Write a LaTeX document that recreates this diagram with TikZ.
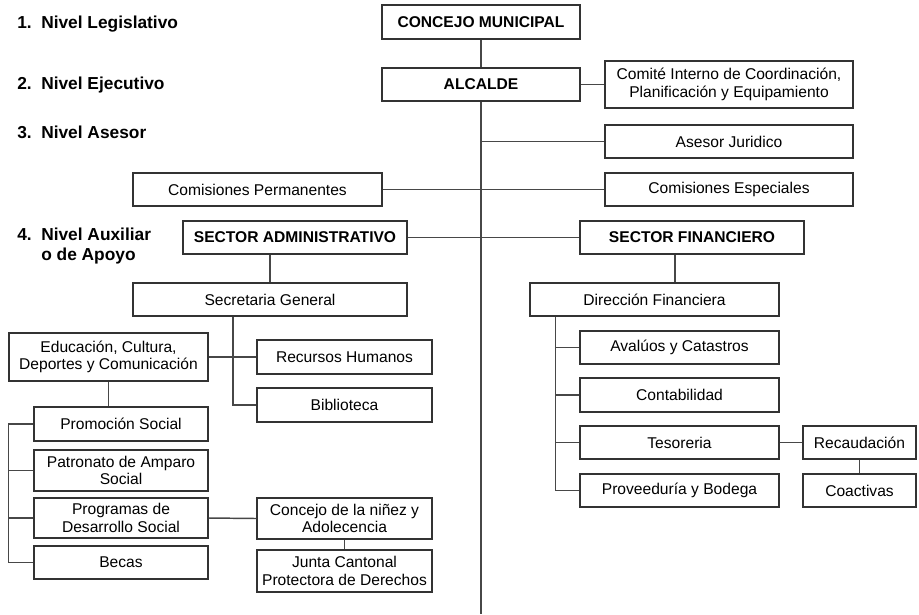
\documentclass[tikz,border=0pt]{standalone}
\usepackage{fontspec}
\setmainfont{Liberation Sans}
\usetikzlibrary{calc}
\tikzset{
  box/.style 2 args={draw=black!80, line width=1.1pt, fill=white, align=center, inner sep=0pt,
    minimum width=#1*0.75pt, minimum height=#2*0.75pt, text=black,
    font=\fontsize{11.7}{13.2}\selectfont},
  hbox/.style 2 args={box={#1}{#2}, font=\fontsize{11.7}{13.2}\selectfont\bfseries},
  lvl/.style={anchor=base west, inner sep=0pt, align=left, font=\fontsize{13}{15}\selectfont\bfseries},
  conn/.style={draw=black!72, line width=1.1pt}
}
\begin{document}
\begin{tikzpicture}[x=0.75pt, y=-0.75pt]
\useasboundingbox (0,0) rectangle (919,614);
% level labels
\node[lvl] (n1) at (17,28) {1.};
\node[lvl] (l1) at (41,28) {Nivel Legislativo};
\node[lvl] (n2) at (17,89) {2.};
\node[lvl] (l2) at (41,89) {Nivel Ejecutivo};
\node[lvl] (n3) at (17,138) {3.};
\node[lvl] (l3) at (41,138) {Nivel Asesor};
\node[lvl] (n4) at (17,240) {4.};
\node[lvl] (l4) at (41,240) {Nivel Auxiliar};
\node[lvl] (l4b) at (41,260) {o de Apoyo};
% boxes
\node[hbox={198}{34}] (concejo) at (481,22) {CONCEJO MUNICIPAL};
\node[hbox={198}{33}] (alcalde) at (481,84.5) {ALCALDE};
\node[box={248}{47}] (comite) at (729,84.5) {Comité Interno de Coordinación,\\Planificación y Equipamiento};
\node[box={248}{33}] (asesor) at (729,141.5) {Asesor Juridico};
\node[box={248}{33}] (especiales) at (729,189.5) {Comisiones Especiales};
\node[box={249}{33}] (permanentes) at (257.5,189.5) {Comisiones Permanentes};
\node[hbox={224}{33}] (admin) at (295,237.5) {SECTOR ADMINISTRATIVO};
\node[hbox={224}{33}] (fin) at (692,237.5) {SECTOR FINANCIERO};
\node[box={274}{33}] (secgen) at (270,299.5) {Secretaria General};
\node[box={175}{34}] (rrhh) at (344.5,357) {Recursos Humanos};
\node[box={175}{34}] (biblio) at (344.5,405) {Biblioteca};
\node[box={199}{48}] (edu) at (108.5,357) {Educación, Cultura,\\Deportes y Comunicación};
\node[box={174}{34}] (promo) at (121,424) {Promoción Social};
\node[box={174}{41}] (patro) at (121,470.5) {Patronato de Amparo\\Social};
\node[box={174}{40}] (progr) at (121,518) {Programas de\\Desarrollo Social};
\node[box={174}{33}] (becas) at (121,562.5) {Becas};
\node[box={175}{41}] (ninez) at (344.5,518.5) {Concejo de la niñez y\\Adolecencia};
\node[box={175}{42}] (junta) at (344.5,571) {Junta Cantonal\\Protectora de Derechos};
\node[box={249}{33}] (dirfin) at (654.5,299.5) {Dirección Financiera};
\node[box={199}{33}] (aval) at (679.5,347.5) {Avalúos y Catastros};
\node[box={199}{34}] (conta) at (679.5,395) {Contabilidad};
\node[box={199}{33}] (teso) at (679.5,442.5) {Tesoreria};
\node[box={199}{33}] (prov) at (679.5,490.5) {Proveeduría y Bodega};
\node[box={113}{33}] (recaud) at (859.5,442.5) {Recaudación};
\node[box={113}{33}] (coact) at (859.5,490.5) {Coactivas};
% coordinates
\coordinate (bot) at (alcalde.south |- 0,614);
\coordinate (fv) at ([xshift=-12.75pt]fin.south);
\coordinate (sv) at ([xshift=-27.75pt]secgen.south);
\coordinate (dv) at ([xshift=19.5pt]dirfin.south west);
% connectors
\draw[conn] (concejo.south) -- (alcalde.north);
\draw[conn] (alcalde.south) -- (bot);
\draw[conn] (alcalde.east) -- (comite.west);
\draw[conn] (asesor.west) -- (asesor.west -| alcalde.south);
\draw[conn] (permanentes.east) -- (especiales.west);
\draw[conn] (admin.east) -- (fin.west);
\draw[conn] (secgen.north) -- (secgen.north |- admin.south);
\draw[conn] (fv) -- (fv |- dirfin.north);
\draw[conn] (sv) |- (biblio.west);
\draw[conn] (edu.east) -- (rrhh.west);
\draw[conn] (edu.south) -- (edu.south |- promo.north);
\draw[conn] (promo.west) -| (edu.west |- becas.west) -- (becas.west);
\draw[conn] (patro.west) -- (patro.west -| edu.west);
\draw[conn] (progr.west) -- (progr.west -| edu.west);
\draw[conn] (progr.east) -- (ninez.west);
\draw[conn] (ninez.south) -- (junta.north);
\draw[conn] (dv) |- (prov.west);
\draw[conn] (aval.west) -- (aval.west -| dv);
\draw[conn] (conta.west) -- (conta.west -| dv);
\draw[conn] (teso.west) -- (teso.west -| dv);
\draw[conn] (teso.east) -- (recaud.west);
\draw[conn] (recaud.south) -- (coact.north);
\end{tikzpicture}
\end{document}
